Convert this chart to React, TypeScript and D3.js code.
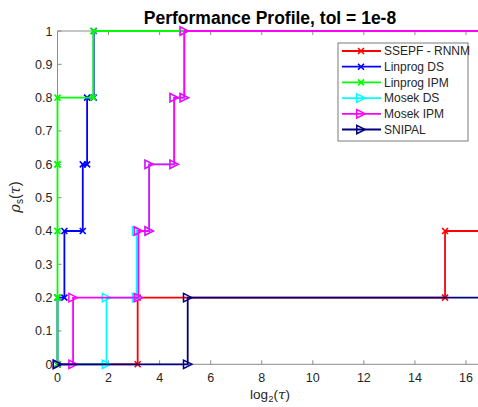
import React, { useRef, useEffect } from "react";
import * as d3 from "d3";

// sorted log2 performance ratios per solver (5 problems, unsolved ones left out)
const solverNames = ["SSEPF - RNNM", "Linprog DS", "Linprog IPM", "Mosek DS", "Mosek IPM", "SNIPAL"];
const ssepfRatios = [3.14, 15.18];
const linprogDsRatios = [0, 0.27, 0.99, 1.16, 1.42];
const linprogIpmRatios = [0, 0, 0, 0, 1.4];
const mosekDsRatios = [1.92, 3.1, 3.59, 4.57, 4.95];
const mosekIpmRatios = [0.61, 3.17, 3.59, 4.57, 4.97];
const snipalRatios = [5.1];
const problemCount = 5;

const xTicks = [0, 2, 4, 6, 8, 10, 12, 14, 16];
const yTicks = [0, 0.1, 0.2, 0.3, 0.4, 0.5, 0.6, 0.7, 0.8, 0.9, 1];
const xMax = 16.7;

const colors = ["#ff0000", "#0000ff", "#00ff00", "#00ffff", "#ff00ff", "#000080"];
const markers = ["x", "x", "x", "tri", "tri", "tri"];

const font = "Arial, 'Liberation Sans', Helvetica, sans-serif";

function App() {
  const svgRef = useRef<SVGSVGElement>(null);
  const width = 478;
  const height = 407;

  useEffect(() => {
    const svg = d3.select(svgRef.current);
    svg.selectAll("*").remove();

    const x = d3.scaleLinear().domain([0, xMax]).range([57.5, 57.5 + xMax * 25.53]);
    const y = d3.scaleLinear().domain([0, 1]).range([364.3, 31]);

    const axisColor = "#8c8c8c";
    const textColor = "#262626";

    // axes box (right side falls outside the picture)
    svg.append("line").attr("x1", x(0)).attr("x2", x(xMax)).attr("y1", y(0)).attr("y2", y(0))
      .attr("stroke", axisColor);
    svg.append("line").attr("x1", x(0)).attr("x2", x(xMax)).attr("y1", y(1)).attr("y2", y(1))
      .attr("stroke", axisColor);
    svg.append("line").attr("x1", x(0)).attr("x2", x(0)).attr("y1", y(0)).attr("y2", y(1))
      .attr("stroke", axisColor);

    xTicks.forEach((t) => {
      svg.append("line").attr("x1", x(t)).attr("x2", x(t)).attr("y1", y(0)).attr("y2", y(0) - 4)
        .attr("stroke", axisColor);
      svg.append("line").attr("x1", x(t)).attr("x2", x(t)).attr("y1", y(1)).attr("y2", y(1) + 4)
        .attr("stroke", axisColor);
      svg.append("text").attr("x", x(t)).attr("y", y(0) + 18).attr("text-anchor", "middle")
        .attr("font-family", font).attr("font-size", 12.5).attr("fill", textColor).text(t);
    });
    yTicks.forEach((t) => {
      svg.append("line").attr("x1", x(0)).attr("x2", x(0) + 4).attr("y1", y(t)).attr("y2", y(t))
        .attr("stroke", axisColor);
      svg.append("text").attr("x", 52.5).attr("y", y(t) + 4.5).attr("text-anchor", "end")
        .attr("font-family", font).attr("font-size", 12.5).attr("fill", textColor)
        .text(d3.format("~g")(t));
    });

    // stair lines with a marker at every corner
    const allRatios = [ssepfRatios, linprogDsRatios, linprogIpmRatios, mosekDsRatios, mosekIpmRatios, snipalRatios];
    const line = d3.line<[number, number]>().x((d) => x(d[0])).y((d) => y(d[1]));

    const drawMarker = (g: any, kind: string, px: number, py: number, color: string) => {
      if (kind === "x") {
        const r = 3;
        g.append("path")
          .attr("d", `M${px - r},${py - r}L${px + r},${py + r}M${px - r},${py + r}L${px + r},${py - r}`)
          .attr("stroke", color).attr("stroke-width", 1.6).attr("fill", "none");
      } else {
        const r = 4.2;
        g.append("path")
          .attr("d", `M${px - r},${py - r}L${px + r},${py}L${px - r},${py + r}Z`)
          .attr("stroke", color).attr("stroke-width", 1.5).attr("fill", "none");
      }
    };

    allRatios.forEach((ratios, s) => {
      const pts: [number, number][] = [[0, 0]];
      ratios.forEach((r, i) => {
        pts.push([r, i / problemCount]);
        pts.push([r, (i + 1) / problemCount]);
      });
      const g = svg.append("g");
      g.append("path").datum([...pts, [xMax, ratios.length / problemCount]] as [number, number][])
        .attr("d", line).attr("fill", "none").attr("stroke", colors[s]).attr("stroke-width", 1.8);
      pts.forEach((p) => drawMarker(g, markers[s], x(p[0]), y(p[1]), colors[s]));
    });

    // legend
    const lx = 338;
    const ly = 43;
    svg.append("rect").attr("x", lx).attr("y", ly).attr("width", 130).attr("height", 98)
      .attr("fill", "white").attr("stroke", "#7a7a7a").attr("stroke-width", 1);
    solverNames.forEach((name, i) => {
      const cy = ly + 8 + i * 15.7;
      const g = svg.append("g");
      g.append("line").attr("x1", lx + 4).attr("x2", lx + 43).attr("y1", cy).attr("y2", cy)
        .attr("stroke", colors[i]).attr("stroke-width", 1.8);
      drawMarker(g, markers[i], lx + 23, cy, colors[i]);
      g.append("text").attr("x", lx + 46).attr("y", cy + 4.3).attr("font-family", font)
        .attr("font-size", 12).attr("fill", textColor).text(name);
    });

    // title and labels
    svg.append("text").attr("x", 270).attr("y", 24).attr("text-anchor", "middle")
      .attr("font-family", font).attr("font-size", 17.5).attr("font-weight", "bold").attr("fill", "#000")
      .text("Performance Profile, tol = 1e-8");

    const xl = svg.append("text").attr("x", 270).attr("y", 399).attr("text-anchor", "middle")
      .attr("font-family", font).attr("font-size", 13.5).attr("fill", textColor);
    xl.append("tspan").text("log");
    xl.append("tspan").attr("dy", 3).attr("font-size", 9.5).text("2");
    xl.append("tspan").attr("dy", -3).text("(");
    xl.append("tspan").attr("font-style", "italic").attr("font-family", "'DejaVu Serif', serif").text("τ");
    xl.append("tspan").text(")");

    const yl = svg.append("text").attr("transform", "translate(20,197) rotate(-90)")
      .attr("text-anchor", "middle").attr("font-family", font).attr("font-size", 14.5).attr("fill", textColor);
    yl.append("tspan").attr("font-style", "italic").attr("font-family", "'DejaVu Serif', serif").text("ρ");
    yl.append("tspan").attr("dy", 3).attr("font-size", 10).text("s");
    yl.append("tspan").attr("dy", -3).text("(");
    yl.append("tspan").attr("font-style", "italic").attr("font-family", "'DejaVu Serif', serif").text("τ");
    yl.append("tspan").text(")");
  }, []);

  return (
    <svg ref={svgRef} width={width} height={height}
      style={{ position: "absolute", left: 0, top: 0, background: "white" }} />
  );
}

export default App;
